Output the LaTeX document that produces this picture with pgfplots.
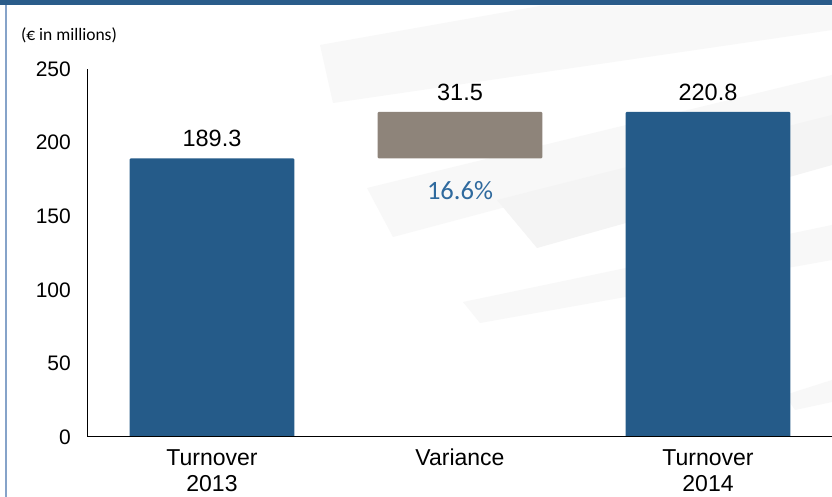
\documentclass[border=0pt]{standalone}
\usepackage{pgfplots}
\pgfplotsset{compat=1.18}
\usepackage{fontspec}
\setmainfont{Liberation Sans}
\newfontfamily\calibri{Carlito}
\definecolor{barblue}{HTML}{255B89}
\definecolor{vargray}{HTML}{8E847A}
\definecolor{pctblue}{HTML}{2F6A9E}
\definecolor{topband}{HTML}{2A5C8A}
\definecolor{sideline}{HTML}{86A3C9}
\definecolor{swooshA}{HTML}{F8F8F8}
\definecolor{swooshB}{HTML}{F4F4F4}
\begin{document}
\begin{tikzpicture}[x=1pt,y=1pt]
\fill[white] (0,0) rectangle (832,497);
% faint decorative background swooshes (image y -> 497-y)
\fill[swooshA] (320,452) -- (540,491) -- (832,491) -- (832,467) -- (333,394) -- cycle;
\fill[swooshA] (367,309) -- (832,422) -- (832,377) -- (393,260) -- cycle;
\fill[swooshB] (497,297) -- (832,382) -- (832,332) -- (537,249) -- cycle;
\fill[swooshA] (463,195) -- (832,272) -- (832,237) -- (480,174) -- cycle;
\fill[swooshA] (785,102) -- (832,117) -- (832,95) -- (795,87) -- cycle;
\begin{axis}[
  at={(88pt,60pt)}, anchor=south west,
  width=744pt, height=368pt, scale only axis,
  ybar stacked, bar width=0.665,
  xmin=-0.5, xmax=2.5, ymin=0, ymax=250,
  axis on top,
  axis x line=bottom, axis y line=left,
  axis line style={line width=1pt, black, -},
  major tick length=0pt,
  ytick={0,50,100,150,200,250},
  xtick={0,1,2},
  xticklabels={{Turnover\\2013},{Variance},{Turnover\\2014}},
  /pgf/number format/assume math mode=true,
  yticklabel style={font=\fontsize{21}{24}\selectfont, inner sep=0pt, xshift=-17pt},
  xticklabel style={font=\fontsize{23}{26}\selectfont, align=center, inner sep=0pt, anchor=north, yshift=-12pt},
  every axis plot/.append style={draw=none, rounded corners=1.2pt},
  clip=false,
]
\addplot[fill=barblue] coordinates {(0,189.3) (1,0) (2,220.8)};
\addplot[fill=none, forget plot] coordinates {(0,0) (1,189.3) (2,0)};
\addplot[fill=vargray] coordinates {(0,0) (1,31.5) (2,0)};
\node[anchor=south, inner sep=0pt, yshift=11pt, font=\fontsize{23.5}{26}\selectfont] at (axis cs:0,189.3) {189.3};
\node[anchor=south, inner sep=0pt, yshift=11pt, font=\fontsize{23.5}{26}\selectfont] at (axis cs:1,220.8) {31.5};
\node[anchor=south, inner sep=0pt, yshift=11pt, font=\fontsize{23.5}{26}\selectfont] at (axis cs:2,220.8) {220.8};
\node[anchor=north, inner sep=0pt, yshift=-23pt, text=pctblue, font=\calibri\fontsize{26.5}{30}\selectfont] at (axis cs:1,189.3) {16.6\%};
\end{axis}
\fill[topband] (0,492) rectangle (832,497);
\draw[sideline, line width=1.2pt] (6,0) -- (6,492);
\node[font=\calibri\fontsize{17.5}{20}\selectfont] at (69,462) {(€ in millions)};
\pgfresetboundingbox
\useasboundingbox (0,0) rectangle (832,497);
\end{tikzpicture}
\end{document}
